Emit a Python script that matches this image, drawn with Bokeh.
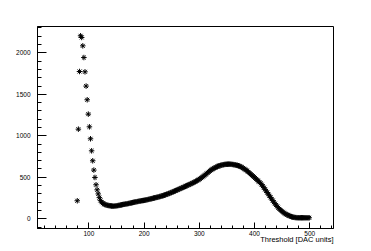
from bokeh.plotting import figure
from bokeh.models import Range1d, SingleIntervalTicker, Title, ColumnDataSource
from bokeh.embed import file_html
from bokeh.resources import INLINE

thresholds = list(range(79, 500, 2))
counts = [
    217, 1080, 1775, 2205, 2185, 2084, 1943, 1771, 1599, 1434,
    1261, 1108, 964, 819, 699, 587, 498, 410, 349, 300,
    255, 222, 200, 188, 180, 173, 168, 163, 160, 158,
    156, 154, 153, 152, 153, 155, 157, 160, 162, 165,
    168, 171, 174, 176, 178, 180, 183, 186, 189, 192,
    195, 198, 201, 204, 206, 209, 212, 214, 217, 219,
    221, 223, 226, 229, 232, 235, 239, 242, 245, 249,
    252, 255, 258, 261, 265, 269, 273, 277, 281, 285,
    290, 295, 300, 305, 310, 316, 321, 327, 333, 338,
    344, 350, 356, 362, 368, 374, 380, 386, 392, 398,
    404, 410, 416, 422, 429, 435, 442, 449, 456, 464,
    472, 481, 490, 500, 510, 521, 532, 543, 554, 565,
    576, 586, 595, 603, 611, 618, 624, 630, 636, 640,
    644, 648, 651, 654, 656, 657, 658, 659, 659, 658,
    656, 654, 652, 649, 646, 643, 639, 634, 628, 620,
    612, 603, 594, 585, 575, 563, 551, 539, 527, 516,
    505, 492, 479, 465, 453, 441, 428, 411, 393, 375,
    355, 336, 316, 297, 277, 258, 239, 219, 200, 182,
    165, 149, 133, 118, 106, 95, 84, 73, 63, 55,
    48, 42, 36, 30, 25, 21, 18, 16, 14, 13,
    12, 12, 12, 12, 12, 12, 12, 12, 12, 12,
    12,
]
x_title = "Threshold [DAC units]"

FONT = "Liberation Sans"
X0, X1 = 7, 543
Y0, Y1 = -117, 2317

p = figure(
    output_backend="svg", toolbar_location=None,
    frame_width=296, frame_height=202,
    min_border_left=37, min_border_top=26, min_border_right=30, min_border_bottom=23,
    x_range=Range1d(X0, X1), y_range=Range1d(Y0, Y1),
    background_fill_color="white", border_fill_color="white",
)
p.grid.visible = False
p.outline_line_color = "black"
p.outline_line_width = 1

src = ColumnDataSource(dict(x=thresholds, y=counts))
p.scatter("x", "y", source=src, marker="asterisk", size=5.5, line_color="black", line_width=1)

xa = p.xaxis[0]
xa.ticker = SingleIntervalTicker(interval=100, num_minor_ticks=5)
xa.major_tick_in = 6
xa.major_tick_out = 0
xa.minor_tick_in = 3
xa.minor_tick_out = 0
xa.major_label_standoff = 2
xa.major_label_text_font = FONT
xa.major_label_text_font_size = "6.5px"
xa.major_label_text_color = "black"
xa.axis_line_color = "black"
xa.major_tick_line_color = "black"
xa.minor_tick_line_color = "black"

ya = p.yaxis[0]
ya.ticker = SingleIntervalTicker(interval=500, num_minor_ticks=5)
ya.major_tick_in = 9
ya.major_tick_out = 0
ya.minor_tick_in = 4
ya.minor_tick_out = 0
ya.major_label_standoff = 7
ya.major_label_text_font = FONT
ya.major_label_text_font_size = "6.5px"
ya.major_label_text_color = "black"
ya.axis_line_color = "black"
ya.major_tick_line_color = "black"
ya.minor_tick_line_color = "black"

t = Title(text=x_title, align="right", vertical_align="top", text_font=FONT,
          text_font_size="7.5px", text_font_style="normal", text_color="black", standoff=-8)
p.add_layout(t, "below")

open("out.html", "w").write(file_html(p, INLINE))
